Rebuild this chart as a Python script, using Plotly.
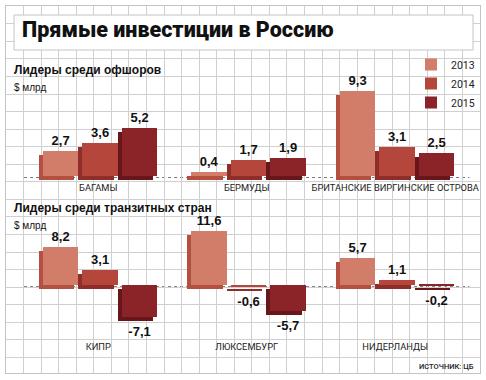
import plotly.graph_objects as go

# ---------------- data ----------------
years = ["2013", "2014", "2015"]
offshore_countries = ["БАГАМЫ", "БЕРМУДЫ", "БРИТАНСКИЕ ВИРГИНСКИЕ ОСТРОВА"]
offshore_2013 = [2.7, 0.4, 9.3]
offshore_2014 = [3.6, 1.7, 3.1]
offshore_2015 = [5.2, 1.9, 2.5]
transit_countries = ["КИПР", "ЛЮКСЕМБУРГ", "НИДЕРЛАНДЫ"]
transit_2013 = [8.2, 11.6, 5.7]
transit_2014 = [3.1, -0.6, 1.1]
transit_2015 = [-7.1, -5.7, -0.2]

title_text = "Прямые инвестиции в Россию"
offshore_header = "Лидеры среди офшоров"
transit_header = "Лидеры среди транзитных стран"
unit_text = "$ млрд"
source_text = "ИСТОЧНИК: ЦБ"

# ---------------- style ----------------
W, H = 486, 380
front_colors = ["#d27d69", "#b4463c", "#8b2428"]
side_colors = ["#b3503f", "#8f2d28", "#681619"]
ROBOTO = "Roboto, Liberation Sans, sans-serif"
SANS = "Liberation Sans, Arial, sans-serif"

GROUP_PX = 148.45      # pixel distance between category centres
SLOT = 39.5            # pixel width of one year slot
FRONT = 35.5           # front face width
DEPTH_X = 4.0          # 3D extrusion (px)
DEPTH_Y = 4.0
GROUP_HALF = 59.25
C0 = 98.3              # pixel x of first category centre

S1, B1 = 9.08, 175.5   # panel 1: px per unit, baseline pixel y
S2, B2 = 4.62, 284.6   # panel 2
P1_TOP, P1_BOT = 84, 181
P2_TOP, P2_BOT = 222, 340


def fmt(v):
    return f"{v:.1f}".replace(".", ",")


def py(p):
    return (H - p) / H


fig = go.Figure()

# background grid subplot (pixel coordinates)
fig.add_trace(go.Scatter(x=[None], y=[None], xaxis="x", yaxis="y",
                         showlegend=False, hoverinfo="skip"))


def add_panel(xa, ya, series, scale):
    d = DEPTH_Y / scale
    w = FRONT / GROUP_PX
    xs = list(range(len(series[0])))
    for j, vals in enumerate(series):
        front_off = (-GROUP_HALF + DEPTH_X + j * SLOT) / GROUP_PX
        side_off = (-GROUP_HALF + j * SLOT) / GROUP_PX
        fig.add_trace(go.Bar(x=xs, y=vals, base=[-d] * len(vals), offset=side_off, width=w,
                             marker=dict(color=side_colors[j], line=dict(width=0)),
                             xaxis=xa, yaxis=ya, showlegend=False, hoverinfo="skip"))
        fig.add_trace(go.Bar(x=xs, y=vals, offset=front_off, width=w, name=years[j],
                             legendgroup=years[j], showlegend=(xa == "x2"),
                             marker=dict(color=front_colors[j], line=dict(width=0)),
                             xaxis=xa, yaxis=ya, hoverinfo="skip"))
        fig.add_trace(go.Bar(x=xs, y=[v if v >= 0 else v - d for v in vals],
                             offset=front_off, width=w,
                             marker=dict(color="rgba(0,0,0,0)", line=dict(width=0)),
                             text=[fmt(v) for v in vals], textposition="outside",
                             constraintext="none", cliponaxis=False,
                             textfont=dict(family=SANS, size=13, color="#111", weight="bold"),
                             xaxis=xa, yaxis=ya, showlegend=False, hoverinfo="skip"))
    return d


d1 = add_panel("x2", "y2", [offshore_2013, offshore_2014, offshore_2015], S1)
d2 = add_panel("x3", "y3", [transit_2013, transit_2014, transit_2015], S2)

x_left = C0 - GROUP_PX / 2
x_right = C0 + 2 * GROUP_PX + GROUP_PX / 2
cat_axis = dict(domain=[x_left / W, x_right / W], range=[-0.5, 2.5], tickvals=[0, 1, 2],
                showgrid=False, zeroline=False, showline=False, ticks="",
                ticklabeloverflow="allow",
                tickfont=dict(family=ROBOTO, size=9.3, color="#222"), fixedrange=True)

fig.update_layout(
    width=W, height=H,
    margin=dict(l=0, r=0, t=0, b=0, autoexpand=False),
    paper_bgcolor="white", plot_bgcolor="rgba(0,0,0,0)",
    barmode="overlay", bargap=0,
    xaxis=dict(domain=[6 / W, 480 / W], range=[6, 480], tick0=6, dtick=(480 - 6) / 27,
               showgrid=True, gridcolor="#d0d0d0", gridwidth=1, zeroline=False,
               showticklabels=False, ticks="", showline=True, mirror=True,
               linecolor="#c4c4c4", linewidth=1, fixedrange=True),
    yaxis=dict(domain=[py(373), py(6)], range=[373, 6], tick0=6.3, dtick=17.55,
               showgrid=True, gridcolor="#d0d0d0", gridwidth=1, zeroline=False,
               showticklabels=False, ticks="", showline=True, mirror=True,
               linecolor="#c4c4c4", linewidth=1, fixedrange=True),
    xaxis2=dict(cat_axis, anchor="y2", ticktext=offshore_countries),
    yaxis2=dict(domain=[py(P1_BOT), py(P1_TOP)],
                range=[(B1 - P1_BOT) / S1, (B1 - P1_TOP) / S1], visible=False,
                anchor="x2", fixedrange=True),
    xaxis3=dict(cat_axis, anchor="y3", ticktext=transit_countries),
    yaxis3=dict(domain=[py(P2_BOT), py(P2_TOP)],
                range=[(B2 - P2_BOT) / S2, (B2 - P2_TOP) / S2], visible=False,
                anchor="x3", fixedrange=True),
    legend=dict(x=411 / W, y=py(50), xanchor="left", yanchor="top",
                bgcolor="rgba(0,0,0,0)", font=dict(family=ROBOTO, size=10.5, color="#222"),
                traceorder="normal"),
    showlegend=True,
)

# title box and dotted zero lines
fig.add_shape(type="rect", xref="x", yref="y", x0=14, x1=473, y0=15, y1=50,
              fillcolor="white", line=dict(color="#c4c4c4", width=1), layer="above")
fig.add_shape(type="line", xref="x2 domain", yref="y2", x0=0, x1=1, y0=-d1 / 2, y1=-d1 / 2,
              line=dict(color="#777", width=1, dash="dot"), layer="below")
fig.add_shape(type="line", xref="x3 domain", yref="y3", x0=0, x1=1, y0=-d2 / 2, y1=-d2 / 2,
              line=dict(color="#777", width=1, dash="dot"), layer="below")


def note(text, x, y, size, family, color="#111", weight="normal", xanchor="left"):
    fig.add_annotation(text=text, x=x, y=y, xref="x", yref="y", showarrow=False,
                       xanchor=xanchor, yanchor="middle",
                       font=dict(family=family, size=size, color=color, weight=weight))


note(title_text, 20, 29.5, 21.5, ROBOTO, "#111", 900)
note(offshore_header, 12, 70, 12, SANS, "#111", "bold")
note(unit_text, 12, 87, 10, SANS, "#111")
note(transit_header, 12, 207.5, 12, SANS, "#111", "bold")
note(unit_text, 12, 225, 10, SANS, "#111")
note(source_text, 476, 366, 7.5, ROBOTO, "#222", 500, "right")

fig.write_html("out.html", config={"displayModeBar": False},
               post_script="document.body.style.margin='0';document.body.style.padding='0';")
